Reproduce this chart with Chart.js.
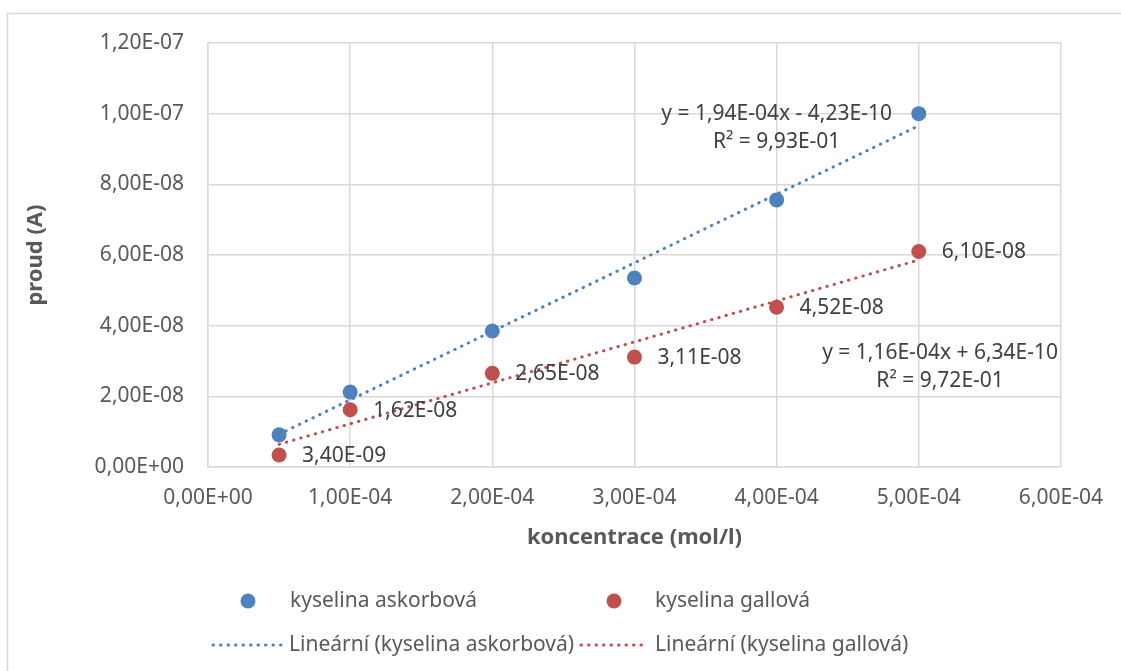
<!DOCTYPE html>
<html>
<head>
<meta charset="utf-8">
<script src="https://cdn.jsdelivr.net/npm/chart.js@4.4.0/dist/chart.umd.min.js"></script>
<style>
  html, body { margin: 0; padding: 0; background: #fff; }
  #c { display: block; }
</style>
</head>
<body>
<canvas id="c" width="1121" height="671"></canvas>
<script>
// values
const concentrations = [0.5e-4, 1e-4, 2e-4, 3e-4, 4e-4, 5e-4];
const askorbova = [9.1e-9, 2.12e-8, 3.85e-8, 5.35e-8, 7.56e-8, 1.0e-7];
const gallova = [3.4e-9, 1.62e-8, 2.65e-8, 3.11e-8, 4.52e-8, 6.10e-8];
// trendline end points (x from first to last point)
const trendX = [0.5e-4, 5e-4];
const trendAskorbova = [9.28e-9, 9.66e-8];
const trendGallova = [6.43e-9, 5.86e-8];
const eqAskorbova = ["y = 1,94E-04x - 4,23E-10", "R² = 9,93E-01"];
const eqGallova = ["y = 1,16E-04x + 6,34E-10", "R² = 9,72E-01"];

const BLUE = "#4F81BD";
const RED = "#C0504D";
const GRID = "#d9d9d9";
const FONT = "'Noto Sans', 'Open Sans', sans-serif";
const FS = 21;

function excelExp(v) {
  let parts = Number(v).toExponential(2).split("e");
  let e = parseInt(parts[1], 10);
  return parts[0].replace(".", ",") + "E" + (e < 0 ? "-" : "+") + String(Math.abs(e)).padStart(2, "0");
}

function toPoints(xs, ys) {
  return xs.map((x, i) => ({ x: x, y: ys[i] }));
}

// white background + outer frame like the Excel chart area
const framePlugin = {
  id: "frame",
  beforeDraw(chart) {
    const ctx = chart.ctx;
    ctx.save();
    ctx.fillStyle = "#fff";
    ctx.fillRect(0, 0, chart.width, chart.height);
    ctx.strokeStyle = GRID;
    ctx.lineWidth = 1.5;
    ctx.strokeRect(7.5, 13.5, chart.width + 20, chart.height + 20);
    ctx.restore();
  },
};

// value labels right of the red points
const labelPlugin = {
  id: "pointLabels",
  afterDatasetsDraw(chart) {
    const ctx = chart.ctx;
    const meta = chart.getDatasetMeta(1);
    ctx.save();
    ctx.font = FS + "px " + FONT;
    ctx.fillStyle = "#404040";
    ctx.textAlign = "left";
    ctx.textBaseline = "middle";
    meta.data.forEach((pt, i) => {
      ctx.fillText(excelExp(gallova[i]), pt.x + 23, pt.y + 1);
    });
    ctx.restore();
  },
};

// trendline equations
const equationPlugin = {
  id: "equations",
  afterDatasetsDraw(chart) {
    const ctx = chart.ctx;
    const xs = chart.scales.x, ys = chart.scales.y;
    ctx.save();
    ctx.font = FS + "px " + FONT;
    ctx.fillStyle = "#404040";
    ctx.textAlign = "center";
    ctx.textBaseline = "middle";
    let bx = xs.getPixelForValue(4e-4), by = ys.getPixelForValue(1e-7);
    ctx.fillText(eqAskorbova[0], bx, by);
    ctx.fillText(eqAskorbova[1], bx, by + 28);
    let rx = xs.getPixelForValue(5.15e-4), ry = ys.getPixelForValue(3.22e-8);
    ctx.fillText(eqGallova[0], rx, ry);
    ctx.fillText(eqGallova[1], rx, ry + 28);
    ctx.restore();
  },
};

// 2x2 legend at the bottom
const legendPlugin = {
  id: "bottomLegend",
  afterDraw(chart) {
    const ctx = chart.ctx;
    const ds = chart.data.datasets;
    ctx.save();
    ctx.font = FS + "px " + FONT;
    ctx.textAlign = "left";
    ctx.textBaseline = "middle";
    const items = [
      { d: ds[0], kind: "dot", mx: 248, tx: 290, y: 601 },
      { d: ds[1], kind: "dot", mx: 614, tx: 655, y: 601 },
      { d: ds[2], kind: "line", mx: 213, mx2: 282, tx: 289, y: 645 },
      { d: ds[3], kind: "line", mx: 581, mx2: 648, tx: 655, y: 645 },
    ];
    items.forEach((it) => {
      if (it.kind === "dot") {
        ctx.beginPath();
        ctx.fillStyle = it.d.backgroundColor;
        ctx.arc(it.mx, it.y, 7.5, 0, Math.PI * 2);
        ctx.fill();
      } else {
        ctx.beginPath();
        ctx.strokeStyle = it.d.borderColor;
        ctx.lineWidth = it.d.borderWidth;
        ctx.lineCap = "round";
        ctx.setLineDash(it.d.borderDash);
        ctx.moveTo(it.mx, it.y);
        ctx.lineTo(it.mx2, it.y);
        ctx.stroke();
        ctx.setLineDash([]);
      }
      ctx.fillStyle = "#595959";
      ctx.fillText(it.d.label, it.tx, it.y);
    });
    ctx.restore();
  },
};

const chart = new Chart(document.getElementById("c"), {
  type: "scatter",
  data: {
    datasets: [
      {
        label: "kyselina askorbová",
        data: toPoints(concentrations, askorbova),
        backgroundColor: BLUE,
        borderColor: BLUE,
        pointRadius: 7.5,
        pointBorderWidth: 0,
      },
      {
        label: "kyselina gallová",
        data: toPoints(concentrations, gallova),
        backgroundColor: RED,
        borderColor: RED,
        pointRadius: 7.5,
        pointBorderWidth: 0,
      },
      {
        label: "Lineární (kyselina askorbová)",
        data: toPoints(trendX, trendAskorbova),
        showLine: true,
        borderColor: BLUE,
        backgroundColor: BLUE,
        borderWidth: 3,
        borderDash: [0.5, 7],
        borderCapStyle: "round",
        pointRadius: 0,
      },
      {
        label: "Lineární (kyselina gallová)",
        data: toPoints(trendX, trendGallova),
        showLine: true,
        borderColor: RED,
        backgroundColor: RED,
        borderWidth: 3,
        borderDash: [0.5, 7],
        borderCapStyle: "round",
        pointRadius: 0,
      },
    ],
  },
  options: {
    responsive: false,
    animation: false,
    devicePixelRatio: 1,
    layout: { padding: { left: 14, top: 43, right: 60, bottom: 114 } },
    plugins: {
      legend: { display: false },
      tooltip: { enabled: false },
    },
    scales: {
      x: {
        type: "linear",
        min: 0,
        max: 6e-4,
        afterFit: (s) => { s.height = 90; },
        ticks: {
          stepSize: 1e-4,
          padding: 18,
          color: "#595959",
          font: { family: FONT, size: FS },
          callback: (v) => excelExp(v),
        },
        grid: { color: GRID, lineWidth: 1.5, drawTicks: false },
        border: { color: GRID, width: 1.5 },
        title: {
          display: true,
          text: "koncentrace (mol/l)",
          color: "#595959",
          font: { family: FONT, size: 22, weight: "bold" },
          padding: { top: 0, bottom: 6 },
        },
      },
      y: {
        type: "linear",
        min: 0,
        max: 1.2e-7,
        afterFit: (s) => { s.width = 194; },
        ticks: {
          stepSize: 2e-8,
          padding: 24,
          color: "#595959",
          font: { family: FONT, size: FS },
          callback: (v) => excelExp(v),
        },
        grid: { color: GRID, lineWidth: 1.5, drawTicks: false },
        border: { color: GRID, width: 1.5 },
        title: {
          display: true,
          text: "proud (A)",
          color: "#595959",
          font: { family: FONT, size: 22, weight: "bold" },
          padding: { top: 9, bottom: 0 },
        },
      },
    },
  },
  plugins: [framePlugin, labelPlugin, equationPlugin, legendPlugin],
});
</script>
</body>
</html>
